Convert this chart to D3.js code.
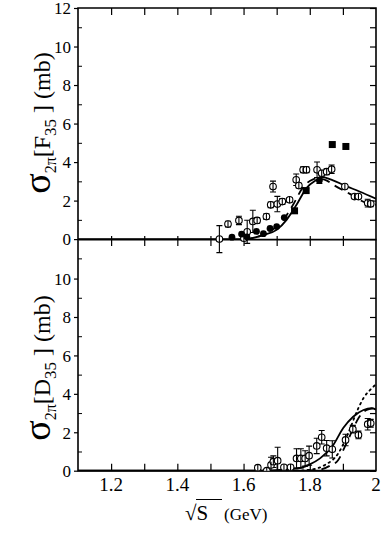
<!DOCTYPE html>
<html lang="en">
  <head>
    <meta charset="utf-8">
    <title>sigma 2pi F35 D35</title>
    <script src="https://cdnjs.cloudflare.com/ajax/libs/d3/7.8.5/d3.min.js"></script>
    <style>
      body { margin: 0; background: #fff; }
    </style>
  </head>
  <body>
    <script type="text/javascript">

    // ---- data: [sqrt(s), sigma, error] ----
    const xTicks = [1.2, 1.4, 1.6, 1.8, 2];
    const xTickLabels = ["1.2", "1.4", "1.6", "1.8", "2"];

    // F35 panel
    const f35Open = [
      [1.527, 0, 0.7], [1.553, 0.78, 0.15], [1.586, 0.97, 0.22], [1.601, 0.05, 0.1],
      [1.611, 0.38, 0.6], [1.628, 0.92, 0.58], [1.641, 0.97, 0.15], [1.669, 1.17, 0.15],
      [1.682, 1.78, 0.15], [1.689, 2.73, 0.28], [1.702, 1.82, 0.4], [1.717, 1.95, 0.15],
      [1.739, 2.04, 0.12], [1.759, 3.08, 0.3], [1.767, 2.78, 0.12], [1.78, 3.6, 0.15],
      [1.79, 3.6, 0.15], [1.822, 3.6, 0.4], [1.836, 3.42, 0.15], [1.851, 3.5, 0.15],
      [1.866, 3.63, 0.22], [1.906, 2.73, 0.1], [1.935, 2.21, 0.1], [1.947, 2.21, 0.1],
      [1.975, 1.87, 0.2], [1.984, 1.83, 0.15]
    ];
    const f35Filled = [
      [1.565, 0.1, 0], [1.594, 0.26, 0], [1.61, 0.12, 0], [1.639, 0.4, 0], [1.66, 0.28, 0],
      [1.68, 0.55, 0], [1.70, 0.65, 0], [1.723, 1.12, 0], [1.829, 3.04, 0.15]
    ];
    const f35Squares = [
      [1.754, 1.47, 0.1], [1.789, 2.52, 0.12], [1.868, 4.91, 0], [1.909, 4.81, 0]
    ];
    const f35Solid = [
      [1.1, 0], [1.6, 0], [1.62, 0.03], [1.66, 0.22], [1.70, 0.48], [1.73, 1.0],
      [1.76, 1.78], [1.79, 2.65], [1.821, 3.08], [1.836, 3.22], [1.87, 3.05],
      [1.906, 2.78], [1.95, 2.47], [2.0, 2.1]
    ];
    const f35Dashed = [
      [1.6, 0], [1.64, 0.1], [1.68, 0.4], [1.72, 1.0], [1.75, 1.8], [1.78, 2.7],
      [1.81, 3.1], [1.825, 3.15], [1.85, 3.05], [1.871, 2.82], [1.921, 2.35],
      [1.972, 1.87], [2.0, 1.78]
    ];

    // D35 panel
    const d35Open = [
      [1.643, 0.16, 0.1], [1.67, 0, 0.05], [1.683, 0.3, 0.4], [1.69, 0.47, 0.3],
      [1.703, 0.52, 0.7], [1.722, 0.18, 0.1], [1.742, 0.18, 0.1], [1.76, 0.64, 0.5],
      [1.773, 0.64, 0.5], [1.786, 0.64, 0.4], [1.798, 0.78, 0.5], [1.821, 1.29, 0.4],
      [1.836, 1.74, 0.35], [1.851, 1.17, 0.4], [1.868, 1.11, 0.45], [1.908, 1.6, 0.3],
      [1.93, 2.16, 0.2], [1.947, 1.86, 0.2], [1.975, 2.42, 0.3], [1.984, 2.47, 0.2]
    ];
    const d35Solid = [
      [1.1, 0], [1.65, 0], [1.7, 0.03], [1.77, 0.14], [1.80, 0.33], [1.831, 0.64],
      [1.871, 1.34], [1.901, 2.22], [1.931, 2.81], [1.962, 3.16], [1.987, 3.25], [2.0, 3.18]
    ];
    const d35Dashed = [
      [1.79, 0], [1.831, 0.05], [1.86, 0.25], [1.886, 0.56], [1.906, 1.25],
      [1.927, 2.03], [1.947, 2.73], [1.972, 3.16], [1.997, 3.25], [2.0, 3.25]
    ];
    const d35Dotted = [
      [1.76, 0], [1.80, 0.05], [1.846, 0.3], [1.886, 0.9], [1.916, 1.95],
      [1.942, 3.07], [1.962, 3.77], [1.987, 4.29], [2.0, 4.5]
    ];

    const W = 382, H = 551;
    const left = 78, right = 376;
    const top1 = 8, mid = 268, bot2 = 470.7;
    const serif = "'Liberation Serif'";

    const svg = d3.select("body").append("svg")
      .attr("width", W).attr("height", H);

    const x = d3.scaleLinear().domain([1.1, 2.0]).range([left, right]);
    const y1 = d3.scaleLinear().domain([-1.5, 12]).range([mid, top1]);
    const y2 = d3.scaleLinear().domain([0, 10.55]).range([bot2, mid]);

    const line = (yS) => d3.line()
      .x(d => x(d[0]))
      .y(d => yS(d[1]))
      .curve(d3.curveMonotoneX);

    svg.append("clipPath").attr("id", "clip")
      .append("rect").attr("x", left).attr("y", top1)
      .attr("width", right - left).attr("height", bot2 - top1);

    // --- left axes (major ticks outward, odd minor ticks inward)
    function leftAxis(yS, majors, minors) {
      svg.append("g").attr("transform", "translate(" + left + ",0)")
        .call(d3.axisLeft(yS).tickValues(majors).tickSize(4).tickPadding(3).tickFormat(d3.format("d")))
        .call(g => g.select(".domain").remove())
        .call(g => g.selectAll("line").attr("stroke-width", 1.2))
        .call(g => g.selectAll("text").attr("font-size", 17).attr("dy", "0.34em").style("font-family", serif));
      svg.append("g").attr("transform", "translate(" + left + ",0)")
        .call(d3.axisRight(yS).tickValues(minors).tickSize(4).tickFormat(""))
        .call(g => g.select(".domain").remove());
      svg.append("g").attr("transform", "translate(" + right + ",0)")
        .call(d3.axisLeft(yS).tickValues(majors.concat(minors)).tickSize(6).tickFormat(""))
        .call(g => g.select(".domain").remove())
        .call(g => g.selectAll("line").attr("stroke-width", 1.2));
    }
    leftAxis(y1, [0, 2, 4, 6, 8, 10, 12], [-1, 1, 3, 5, 7, 9, 11]);
    leftAxis(y2, [0, 2, 4, 6, 8, 10], [1, 3, 5, 7, 9]);

    const tickVals = [1.2, 1.3, 1.4, 1.5, 1.6, 1.7, 1.8, 1.9];

    // top border ticks (inward)
    svg.append("g").attr("transform", "translate(0," + top1 + ")")
      .call(d3.axisBottom(x).tickValues(tickVals).tickSize(7).tickFormat(""))
      .call(g => g.select(".domain").remove())
      .call(g => g.selectAll("line").attr("stroke-width", 1.2));

    // zero line of the upper panel with crossing ticks
    svg.append("g").attr("transform", "translate(0," + y1(0) + ")")
      .call(d3.axisBottom(x).tickValues(tickVals).tickSize(7).tickSizeOuter(0).tickFormat(""))
      .call(g => g.select(".domain").attr("stroke-width", 1.6))
      .call(g => g.selectAll("line").attr("y1", -3).attr("stroke-width", 1.2));

    // bottom axis (ticks inward, labels below)
    svg.append("g").attr("transform", "translate(0," + bot2 + ")")
      .call(d3.axisTop(x).tickValues(tickVals).tickSize(7).tickFormat(""))
      .call(g => g.select(".domain").remove())
      .call(g => g.selectAll("line").attr("stroke-width", 1.2));
    svg.append("g").selectAll("text").data(xTicks).join("text")
      .attr("x", (d) => x(d)).attr("y", bot2 + 20)
      .attr("text-anchor", "middle").attr("font-size", 19)
      .style("font-family", serif)
      .text((d, i) => xTickLabels[i]);

    // frame
    svg.append("path")
      .attr("d", "M" + left + "," + bot2 + "V" + top1 + "H" + right + "V" + bot2 + "Z")
      .attr("fill", "none").attr("stroke", "#000").attr("stroke-width", 1.6);
    svg.append("line").attr("x1", left).attr("x2", right).attr("y1", bot2).attr("y2", bot2)
      .attr("stroke", "#000").attr("stroke-width", 2);

    const plot = svg.append("g").attr("clip-path", "url(#clip)");

    // curves
    function curve(data, yS, dash, w) {
      plot.append("path").datum(data)
        .attr("d", line(yS))
        .attr("fill", "none").attr("stroke", "#000")
        .attr("stroke-width", w)
        .attr("stroke-dasharray", dash)
        .attr("stroke-linecap", dash === "1.6,4" ? "round" : "butt");
    }
    curve(f35Solid, y1, null, 1.8);
    curve(f35Dashed, y1, "9,6", 1.8);
    curve(d35Solid, y2, null, 1.8);
    curve(d35Dashed, y2, "9,6", 1.8);
    curve(d35Dotted, y2, "1.6,4", 1.8);

    // error bars
    function errBars(data, yS) {
      const g = plot.append("g").attr("stroke", "#000").attr("stroke-width", 1.1);
      data.filter(d => d[2] > 0).forEach(d => {
        const cx = x(d[0]), ya = yS(d[1] + d[2]), yb = yS(d[1] - d[2]);
        g.append("line").attr("x1", cx).attr("x2", cx).attr("y1", ya).attr("y2", yb);
        g.append("line").attr("x1", cx - 3).attr("x2", cx + 3).attr("y1", ya).attr("y2", ya);
        g.append("line").attr("x1", cx - 3).attr("x2", cx + 3).attr("y1", yb).attr("y2", yb);
      });
    }

    function openCircles(data, yS) {
      plot.append("g").selectAll("circle").data(data).join("circle")
        .attr("cx", d => x(d[0])).attr("cy", d => yS(d[1])).attr("r", 3.3)
        .attr("fill", "#fff").attr("stroke", "#000").attr("stroke-width", 1.1);
      // the bar runs through the marker
      plot.append("g").selectAll("line").data(data).join("line")
        .attr("x1", d => x(d[0])).attr("x2", d => x(d[0]))
        .attr("y1", d => yS(d[1]) - 3.3).attr("y2", d => yS(d[1]) + 3.3)
        .attr("stroke", "#000").attr("stroke-width", 1.1);
    }

    errBars(f35Open, y1);
    errBars(f35Filled, y1);
    errBars(f35Squares, y1);
    openCircles(f35Open, y1);

    plot.append("g").selectAll("circle").data(f35Filled).join("circle")
      .attr("cx", d => x(d[0])).attr("cy", d => y1(d[1])).attr("r", 3.4)
      .attr("fill", "#000");
    plot.append("g").selectAll("rect").data(f35Squares).join("rect")
      .attr("x", d => x(d[0]) - 3.5).attr("y", d => y1(d[1]) - 3.5)
      .attr("width", 7).attr("height", 7).attr("fill", "#000");

    errBars(d35Open, y2);
    openCircles(d35Open, y2);

    // y labels
    function yLabel(cy, state) {
      const t = svg.append("text")
        .attr("transform", "rotate(-90)")
        .attr("x", -cy).attr("y", 50)
        .attr("text-anchor", "middle").attr("font-size", 24)
        .style("font-family", serif);
      t.append("tspan").attr("font-size", 38).text("σ");
      t.append("tspan").attr("font-size", 16).attr("dy", 6).text("2π");
      t.append("tspan").attr("dy", -6).text("[" + state);
      t.append("tspan").attr("font-size", 17).attr("dy", 6).text("35");
      t.append("tspan").attr("dy", -6).text(" ] (mb)");
    }
    yLabel(123, "F");
    yLabel(368, "D");

    // x label: radical with an overline that runs past the S
    const xl = svg.append("text").attr("x", 185).attr("y", 520).attr("font-size", 21)
      .style("font-family", serif);
    xl.append("tspan").text("√");
    const sSpan = xl.append("tspan").text("S");
    const sx = sSpan.node().getStartPositionOfChar(0).x;
    svg.append("line").attr("x1", sx - 0.5).attr("x2", 222)
      .attr("y1", 499.5).attr("y2", 499.5)
      .attr("stroke", "#000").attr("stroke-width", 1);
    svg.append("text").attr("x", 224).attr("y", 520).attr("font-size", 17)
      .style("font-family", serif).text("(GeV)");

    </script>
  </body>
</html>
